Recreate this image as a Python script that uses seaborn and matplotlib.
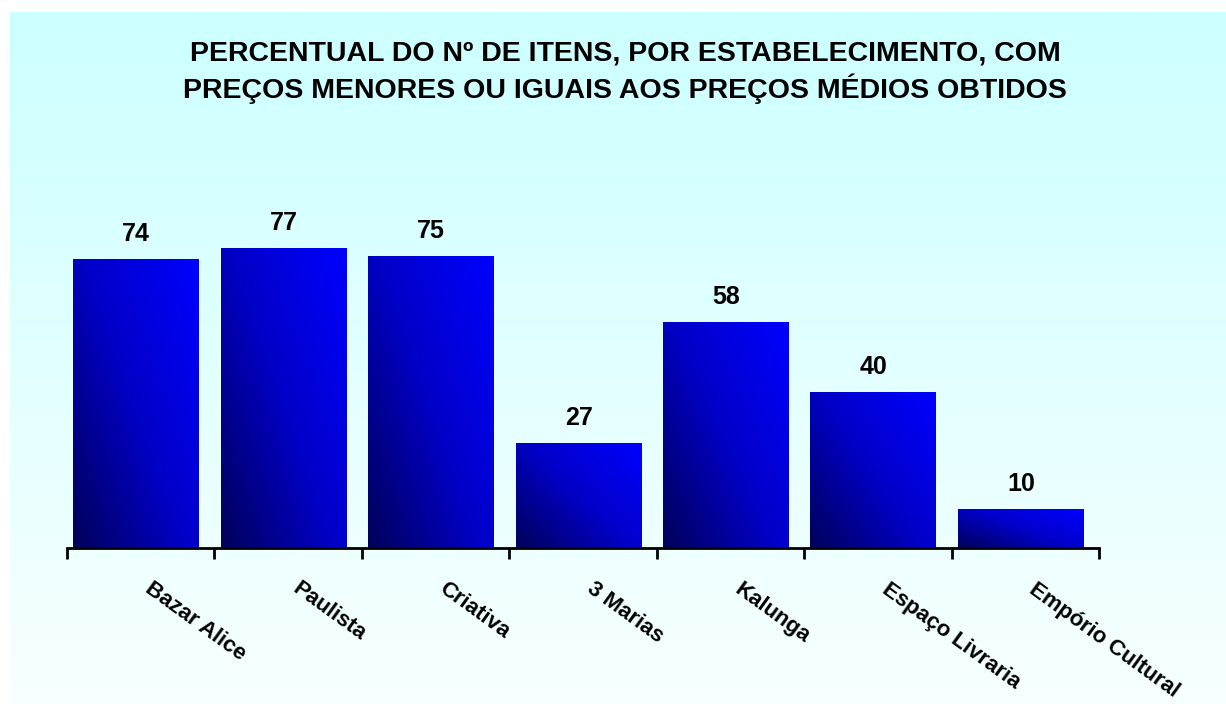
import numpy as np
import pandas as pd
import matplotlib
matplotlib.use("Agg")
import matplotlib.pyplot as plt
from matplotlib.colors import LinearSegmentedColormap
import seaborn as sns

categories = ["Bazar Alice", "Paulista", "Criativa", "3 Marias", "Kalunga",
              "Espaço Livraria", "Empório Cultural"]
values = [74, 77, 75, 27, 58, 40, 10]
title = ("PERCENTUAL DO Nº DE ITENS, POR ESTABELECIMENTO, COM\n"
         "PREÇOS MENORES OU IGUAIS AOS PREÇOS MÉDIOS OBTIDOS")

sns.set_theme(style="white")
plt.rcParams['font.family'] = ['Liberation Sans', 'DejaVu Sans']
plt.rcParams['text.color'] = 'black'
plt.rcParams['xtick.color'] = 'black'
plt.rcParams['xtick.labelcolor'] = 'black'

W, H = 1226, 704
fig = plt.figure(figsize=(W / 100, H / 100), dpi=100)
fig.patch.set_facecolor("white")

# background panel gradient
bg = fig.add_axes([10 / W, 0, 1 - 10 / W, 1 - 12 / H], zorder=-10)
bg_cmap = LinearSegmentedColormap.from_list("bg", ["#f8ffff", "#ccffff"])
bg.imshow(np.linspace(0, 1, 256).reshape(-1, 1), aspect="auto", cmap=bg_cmap,
          origin="lower", extent=[0, 1, 0, 1])
bg.set_axis_off()

ax = fig.add_axes([67 / W, (H - 548) / H, (1099 - 67) / W, 390 / H])
ax.patch.set_alpha(0)
df = pd.DataFrame({"cat": categories, "val": values})
sns.barplot(data=df, x="cat", y="val", ax=ax, color="#0000ff", width=0.85,
            saturation=1)

ax.set_xlim(-0.5, len(categories) - 0.5)
ax.set_ylim(0, 100)

# gradient fill for bars
yy, xx = np.mgrid[0:1:100j, 0:1:100j]
grad = 0.55 * xx + 0.45 * yy
bar_cmap = LinearSegmentedColormap.from_list("bar", ["#00005a", "#0000c8", "#0000ff"])
for p in ax.patches:
    p.set_x(p.get_x() - 0.032)
    x0, y0 = p.get_x(), p.get_y()
    w, h = p.get_width(), p.get_height()
    im = ax.imshow(grad, extent=[x0, x0 + w, y0, y0 + h], origin="lower",
                   aspect="auto", cmap=bar_cmap, vmin=0, vmax=1, zorder=2)
    im.set_clip_path(p)
    p.set_edgecolor("none")
ax.set_aspect("auto")
ax.set_xlim(-0.5, len(categories) - 0.5)
ax.set_ylim(0, 100)

for i, v in enumerate(values):
    ax.text(i - 0.03, v + 4.6, str(v), ha="center", va="baseline", fontsize=18,
            fontweight="bold", color="black")

for s in ["top", "right", "left"]:
    ax.spines[s].set_visible(False)
ax.spines["bottom"].set_color("black")
ax.spines["bottom"].set_linewidth(2)
ax.set_yticks([])
ax.set_xlabel("")
ax.set_ylabel("")
ax.set_xticks(range(len(categories)))
ax.set_xticklabels(categories, rotation=-36, ha="left", va="top",
                   fontsize=16, fontweight="bold", color="black")
ax.tick_params(axis="x", which="major", length=0, pad=22)
ax.set_xticks(np.arange(-0.5, len(categories)), minor=True)
ax.tick_params(axis="x", which="minor", length=8, width=2, color="black",
               direction="out", bottom=True)
ax.grid(False)

fig.text(625 / W, 1 - 72 / H, title, ha="center", va="center", fontsize=20.5,
         fontweight="bold", linespacing=1.3, color="black")

fig.savefig("out.png", dpi=100, facecolor=fig.get_facecolor())
